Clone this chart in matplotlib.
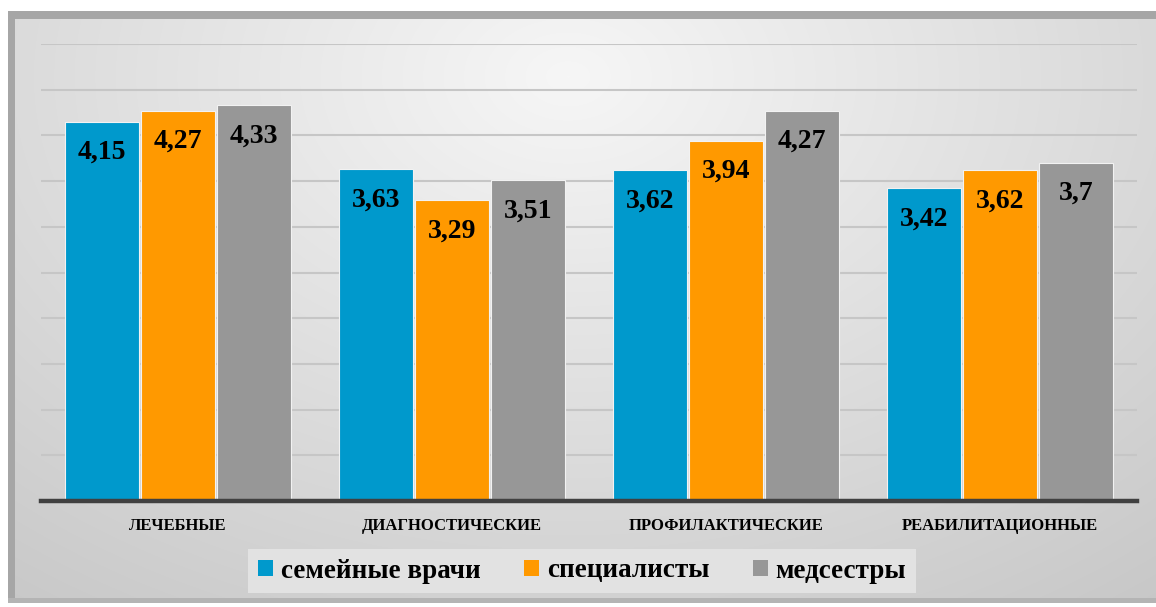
import numpy as np
import matplotlib
matplotlib.use("Agg")
import matplotlib.pyplot as plt
from matplotlib.patches import Rectangle, Patch

categories = ["ЛЕЧЕБНЫЕ", "ДИАГНОСТИЧЕСКИЕ", "ПРОФИЛАКТИЧЕСКИЕ", "РЕАБИЛИТАЦИОННЫЕ"]
series_names = ["семейные врачи", "специалисты", "медсестры"]
family_doctors = [4.15, 3.63, 3.62, 3.42]
specialists = [4.27, 3.29, 3.94, 3.62]
nurses = [4.33, 3.51, 4.27, 3.7]
value_labels = [["4,15", "3,63", "3,62", "3,42"],
                ["4,27", "3,29", "3,94", "3,62"],
                ["4,33", "3,51", "4,27", "3,7"]]

colors = ["#0099cc", "#ff9900", "#979797"]
serif = ["Liberation Serif", "DejaVu Serif"]

W, H = 1156, 607
fig = plt.figure(figsize=(W / 100, H / 100), dpi=100)
fig.patch.set_facecolor("white")

# background with gradient and frame
bg = fig.add_axes([0, 0, 1, 1])
bg.set_xlim(0, W)
bg.set_ylim(H, 0)
bg.axis("off")
yy, xx = np.mgrid[0:H, 0:W]
d = np.sqrt(((xx - 560) / 900.0) ** 2 + ((yy - 60) / 650.0) ** 2)
shade = np.clip(0.965 - 0.17 * d, 0.78, 0.97)
img = np.dstack([shade, shade, shade])
bg.imshow(img, extent=(15, W, 598, 19), aspect="auto", zorder=0)
bg.add_patch(Rectangle((8, 11), W - 8, 8, color="#a6a6a6", lw=0, zorder=1))
bg.add_patch(Rectangle((8, 11), 7, 592, color="#a6a6a6", lw=0, zorder=1))
bg.add_patch(Rectangle((8, 598), W - 8, 5, color="#b4b4b4", lw=0, zorder=1))

# main chart
ax = fig.add_axes([41 / W, 1 - 501 / H, (1137 - 41) / W, (501 - 44) / H])
ax.patch.set_alpha(0)
x = np.arange(len(categories))
width = 0.27
step = 0.277
data = [family_doctors, specialists, nurses]
for i, vals in enumerate(data):
    pos = x + (i - 1) * step
    ax.bar(pos, vals, width, color=colors[i], edgecolor="#f2f2f2", linewidth=0.8, zorder=3)
    for p, v, lab in zip(pos, vals, value_labels[i]):
        ax.annotate(lab, (p, v), xytext=(0, -22), textcoords="offset points",
                    ha="center", va="center", fontsize=20, fontweight="bold",
                    family=serif, color="black", zorder=4)

ax.set_xlim(-0.5, 3.5)
ax.set_ylim(0, 5)
ax.set_yticks(np.arange(0.5, 5.01, 0.5))
ax.yaxis.grid(True, color="#c6c6c6", linewidth=1.5, zorder=0)
ax.tick_params(axis="y", left=False, labelleft=False)
ax.tick_params(axis="x", length=0, pad=12)
ax.set_xticks(x)
ax.set_xticklabels(categories, fontsize=12, fontweight="bold", family=serif)
for s in ["top", "right", "left"]:
    ax.spines[s].set_visible(False)
ax.spines["bottom"].set_color("#404040")
ax.spines["bottom"].set_linewidth(3.2)
ax.spines["bottom"].set_zorder(5)

handles = [Patch(facecolor=c, edgecolor="none") for c in colors]
leg = fig.legend(handles, series_names, loc="center", bbox_to_anchor=(582 / W, 1 - 571 / H),
                 ncol=3, frameon=True, fancybox=False, handlelength=0.55, handleheight=0.55,
                 handletextpad=0.3, columnspacing=1.6, borderpad=0.35,
                 prop={"family": serif, "weight": "bold", "size": 19.5})
leg.get_frame().set_facecolor("#e2e2e2")
leg.get_frame().set_edgecolor("none")
leg.get_frame().set_alpha(1)

fig.savefig("out.png", dpi=100)
